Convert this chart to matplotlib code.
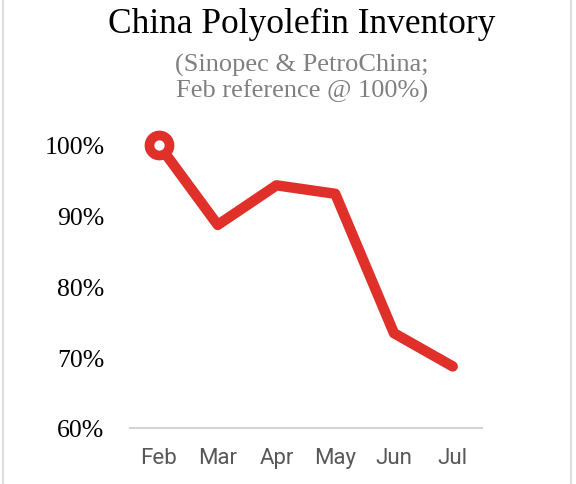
import matplotlib
matplotlib.use("Agg")
import matplotlib.pyplot as plt
from matplotlib.lines import Line2D

months = ["Feb", "Mar", "Apr", "May", "Jun", "Jul"]
inventory = [100.0, 88.7, 94.3, 93.1, 73.4, 68.7]
y_ticks = [60, 70, 80, 90, 100]
y_labels = ["60%", "70%", "80%", "90%", "100%"]

RED = "#E0302A"

fig = plt.figure(figsize=(5.76, 4.85), dpi=100)
ax = fig.add_axes([0.225, 0.1155, 0.612, 0.5835])

x = list(range(len(months)))
ax.plot(x, inventory, color=RED, lw=7.5, solid_joinstyle="round",
        solid_capstyle="round", clip_on=False, zorder=3)
ax.plot(x[0], inventory[0], marker="o", ms=14.4, mew=7, mec=RED, mfc="white",
        clip_on=False, zorder=4)

ax.set_xlim(-0.5, 5.5)
ax.set_ylim(60, 100)
ax.set_xticks(x)
ax.set_xticklabels(months, fontfamily="Roboto", fontsize=16, color="#585858")
ax.set_yticks(y_ticks)
ax.set_yticklabels(y_labels, fontfamily="Liberation Serif", fontsize=18.5, color="black")
ax.tick_params(axis="both", length=0)
ax.tick_params(axis="x", pad=14)
ax.tick_params(axis="y", pad=18)

for s in ["top", "right", "left"]:
    ax.spines[s].set_visible(False)
ax.spines["bottom"].set_color("#d4d4d4")
ax.spines["bottom"].set_linewidth(1.5)

fig.text(0.524, 0.949, "China Polyolefin Inventory", ha="center", va="center",
         fontfamily="Liberation Serif", fontsize=25.5, color="black")
fig.text(0.524, 0.838, "(Sinopec & PetroChina;\nFeb reference @ 100%)", ha="center",
         va="center", fontfamily="Liberation Serif", fontsize=19, color="#808080",
         linespacing=1.15)

# faint frame edges
for xf in (0.005, 0.992):
    fig.add_artist(Line2D([xf, xf], [0, 1], color="#dddddd", lw=1.5,
                          transform=fig.transFigure))

fig.savefig("out.png", dpi=100)
